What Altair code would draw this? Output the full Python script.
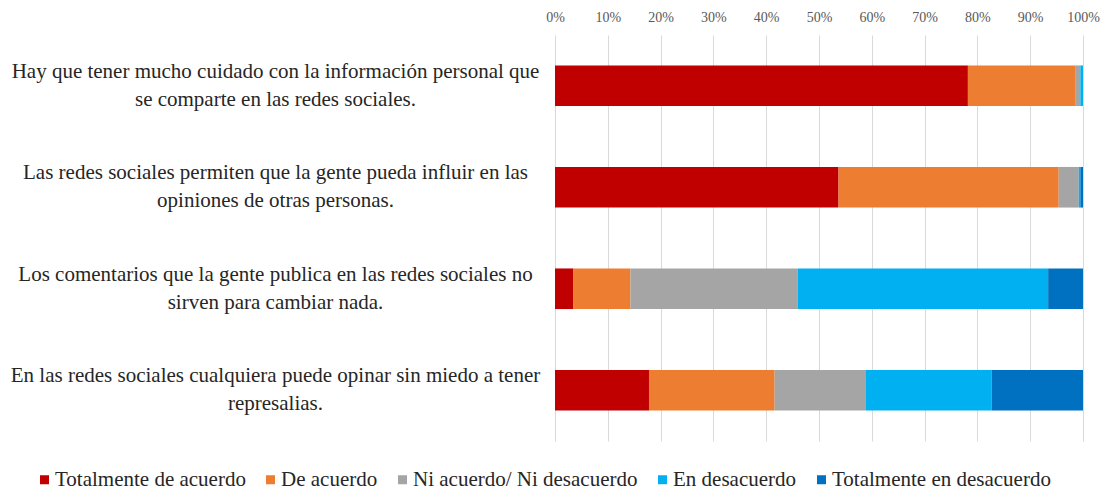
import altair as alt
import pandas as pd

statements = [
    "Hay que tener mucho cuidado con la información personal que|se comparte en las redes sociales.",
    "Las redes sociales permiten que la gente pueda influir en las|opiniones de otras personas.",
    "Los comentarios que la gente publica en las redes sociales no|sirven para cambiar nada.",
    "En las redes sociales cualquiera puede opinar sin miedo a tener|represalias.",
]
responses = [
    "Totalmente de acuerdo",
    "De acuerdo",
    "Ni acuerdo/ Ni desacuerdo",
    "En desacuerdo",
    "Totalmente en desacuerdo",
]
colors = ["#C00000", "#ED7D31", "#A5A5A5", "#00B0F0", "#0070C0"]

totalmente_de_acuerdo = [78.2, 53.7, 3.5, 17.8]
de_acuerdo = [20.3, 41.7, 10.8, 23.8]
ni_acuerdo = [1.0, 3.8, 31.7, 17.3]
en_desacuerdo = [0.5, 0.3, 47.4, 23.8]
totalmente_en_desacuerdo = [0.0, 0.5, 6.6, 17.3]

series = [totalmente_de_acuerdo, de_acuerdo, ni_acuerdo, en_desacuerdo, totalmente_en_desacuerdo]
tick_values = [i / 10 for i in range(11)]

rows = []
for ri, resp in enumerate(responses):
    for si, st in enumerate(statements):
        rows.append({"statement": st, "response": resp, "order": ri, "value": series[ri][si]})
df = pd.DataFrame(rows)

FONT = "Liberation Serif"

chart = (
    alt.Chart(df)
    .mark_bar()
    .encode(
        y=alt.Y(
            "statement:N",
            sort=statements,
            title=None,
            scale=alt.Scale(paddingInner=0.6, paddingOuter=0.3),
            axis=alt.Axis(
                orient="left",
                domain=False,
                ticks=False,
                tickSize=0,
                grid=False,
                labelAlign="center",
                labelBaseline="middle",
                labelPadding=280,
                labelOffset=-14,
                labelFont=FONT,
                labelFontSize=21,
                labelColor="#262626",
                labelLineHeight=28,
                labelLimit=700,
                labelExpr="split(datum.label, '|')",
            ),
        ),
        x=alt.X(
            "value:Q",
            stack="normalize",
            title=None,
            scale=alt.Scale(domain=[0, 1], nice=False),
            axis=alt.Axis(
                orient="top",
                values=tick_values,
                format=".0%",
                domain=False,
                ticks=False,
                tickSize=0,
                grid=True,
                gridColor="#d9d9d9",
                gridWidth=1,
                labelFlush=False,
                labelOverlap=False,
                labelPadding=11,
                labelFont=FONT,
                labelFontSize=14,
                labelColor="#595959",
            ),
        ),
        color=alt.Color(
            "response:N",
            sort=responses,
            scale=alt.Scale(domain=responses, range=colors),
            legend=alt.Legend(
                title=None,
                orient="none",
                direction="horizontal",
                legendX=-521,
                legendY=434,
                symbolType="square",
                symbolSize=81,
                symbolStrokeWidth=0,
                labelFont=FONT,
                labelFontSize=21,
                labelColor="#262626",
                labelLimit=400,
                columnPadding=14,
                labelOffset=0,
                padding=0,
            ),
        ),
        order=alt.Order("order:Q", sort="ascending"),
    )
    .properties(
        width=528,
        height=406,
        autosize=alt.AutoSizeParams(type="none"),
        padding={"left": 547, "top": 27, "right": 17, "bottom": 49},
    )
    .configure(
        background="white",
        font=FONT,
        view=alt.ViewConfig(stroke=None),
        axis=alt.AxisConfig(labelFont=FONT),
        legend=alt.LegendConfig(labelFont=FONT),
    )
)

chart.save("out.html", embed_options={"renderer": "svg", "actions": False})
